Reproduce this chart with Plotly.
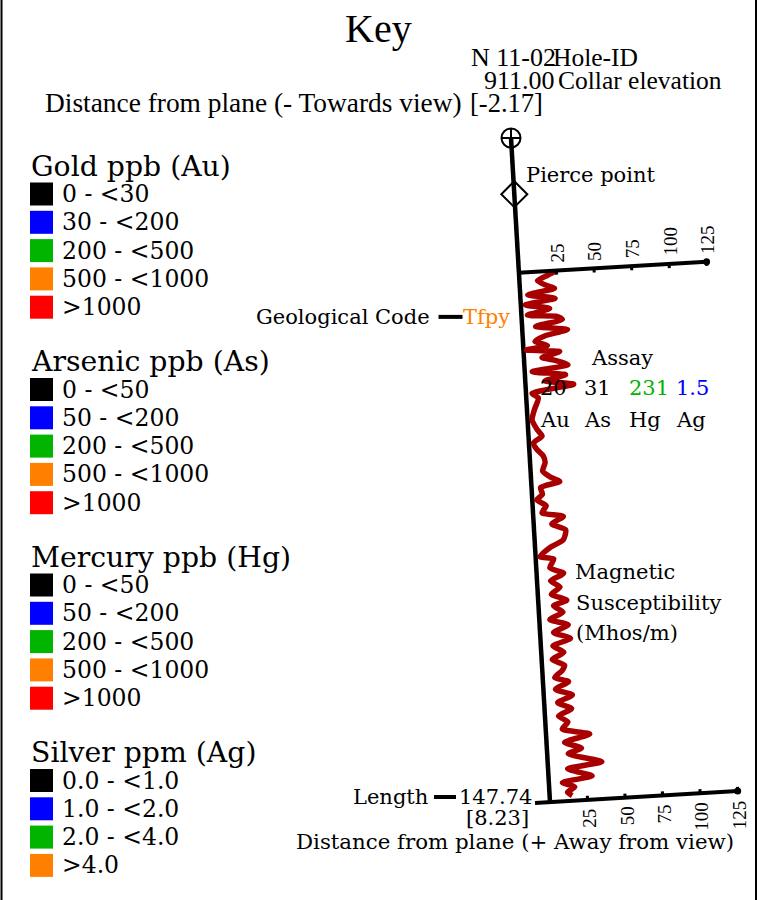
import numpy as np
import plotly.graph_objects as go

# ---------------- data ----------------
hole_id = "N 11-02"
collar_elevation = "911.00"
dist_top = "[-2.17]"
dist_bottom = "[8.23]"
hole_length = 147.74
geo_code = "Tfpy"
geo_code_depth = 39.8
pierce_depth = 12.5
mag_start_depth = 30.0

assay_values = ["20", "31", "231", "1.5"]
assay_elements = ["Au", "As", "Hg", "Ag"]
assay_value_colors = ["#000000", "#000000", "#00b400", "#0000ff"]

scale_ticks = [25, 50, 75, 100, 125]

# magnetic susceptibility (Mhos/m) along the hole, depth in metres
mag_depth = [30.2, 30.9, 32.0, 33.2, 33.9, 35.0, 36.1, 37.2, 38.3, 39.5, 40.2, 40.9,
             42.1, 43.2, 44.3, 45.4, 46.5, 47.2, 48.0, 49.1, 49.8, 51.0, 52.1, 53.2,
             54.3, 55.4, 56.9, 58.0, 60.5, 62.8, 65.0, 66.5, 67.9, 69.4, 70.9, 72.4,
             74.3, 75.7, 76.8, 77.9, 79.4, 80.6, 82.0, 83.5, 84.6, 86.1, 87.6, 89.8,
             91.3, 93.2, 93.9, 95.8, 97.2, 98.7, 100.2, 101.7, 103.2, 104.3, 105.8, 107.3,
             108.7, 110.2, 111.7, 113.2, 114.7, 116.2, 117.6, 118.8, 120.2, 121.3, 122.8, 124.3,
             125.8, 127.3, 128.8, 130.2, 131.7, 133.2, 134.7, 136.2, 137.3, 139.5, 140.6, 142.5,
             143.6, 144.7, 145.8, 146.6]
mag_value = [24, 19, 12, 18, 23, 5, 23, 3, 19, 4, 24, 27,
             9, 30, 15, 8, 16, 2, 24, 12, 20, 29, 5, 27,
             13, 32, 4, 8, 5, 3, 6, 9, 3, 5, 9, 10,
             8, 13, 19, 6, 7, 3, 9, 6, 20, 12, 21, 19,
             10, 3, 12, 9, 18, 9, 15, 9, 19, 10, 16, 7,
             19, 9, 20, 8, 15, 7, 15, 13, 8, 17, 8, 19,
             9, 18, 9, 15, 11, 29, 12, 23, 14, 36, 13, 29,
             9, 17, 12, 15]

legend_groups = ["Gold ppb (Au)", "Arsenic ppb (As)", "Mercury ppb (Hg)", "Silver ppm (Ag)"]
gold_labels = ["0 - <30", "30 - <200", "200 - <500", "500 - <1000", ">1000"]
arsenic_labels = ["0 - <50", "50 - <200", "200 - <500", "500 - <1000", ">1000"]
mercury_labels = ["0 - <50", "50 - <200", "200 - <500", "500 - <1000", ">1000"]
silver_labels = ["0.0 - <1.0", "1.0 - <2.0", "2.0 - <4.0", ">4.0"]
class_colors = ["#000000", "#0000ff", "#00b400", "#ff8000", "#ff0000"]

# ---------------- layout / geometry ----------------
W, H = 763, 900
COLLAR = np.array([511.0, 138.0])
HOLE_END = np.array([550.0, 802.0])
hole_vec = HOLE_END - COLLAR
PX_PER_M = np.linalg.norm(hole_vec) / hole_length
U = hole_vec / np.linalg.norm(hole_vec)
N = np.array([U[1], -U[0]])
PX_PER_UNIT = 1.504

SERIF = "DejaVu Serif"
COND = "Liberation Serif"
TRACE_RED = "#a80000"


def P(d, v=0.0):
    d = np.asarray(d, dtype=float)
    v = np.asarray(v, dtype=float)
    x = COLLAR[0] + d * PX_PER_M * U[0] + v * PX_PER_UNIT * N[0]
    y = COLLAR[1] + d * PX_PER_M * U[1] + v * PX_PER_UNIT * N[1]
    return x, y


fig = go.Figure()
shapes = []
ann = []


def line(x0, y0, x1, y1, w=4, color="black"):
    fig.add_trace(go.Scatter(x=[x0, x1], y=[y0, y1], mode="lines",
                             line=dict(color=color, width=w), hoverinfo="skip"))


def text(x, y, s, size, xa="left", ya="middle", color="black", family=SERIF, angle=0):
    ann.append(dict(x=x, y=y, text=s, showarrow=False, xanchor=xa, yanchor=ya,
                    textangle=angle, font=dict(family=family, size=size, color=color),
                    xref="x", yref="y"))


# frame
shapes.append(dict(type="line", x0=1.5, x1=1.5, y0=0, y1=H, line=dict(color="black", width=2)))
shapes.append(dict(type="line", x0=756, x1=756, y0=0, y1=H, line=dict(color="black", width=2)))

# hole trace
hx, hy = P([0, hole_length])
line(hx[0], hy[0], hx[1], hy[1], w=4.5)

# magnetic susceptibility curve
mx, my = P(mag_depth, mag_value)
fig.add_trace(go.Scatter(x=mx, y=my, mode="lines",
                         line=dict(color=TRACE_RED, width=5.5, shape="spline", smoothing=0.6),
                         hoverinfo="skip"))

# scale axes (top and bottom)
for depth, v0, side in [(mag_start_depth, 0, 1), (hole_length, -10, -1)]:
    ax_x, ax_y = P([depth, depth], [v0, scale_ticks[-1]])
    line(ax_x[0], ax_y[0], ax_x[1], ax_y[1], w=4)
    for t in scale_ticks:
        tx, ty = P([depth, depth + side * 0.9], [t, t])
        line(tx[0], ty[0], tx[1], ty[1], w=3)
        px_, py_ = P(depth, t)
        if side == 1:
            text(px_ + 1, py_ - 6, str(t), 19, xa="center", ya="bottom", family=COND, angle=-90)
        else:
            text(px_ + 2, py_ + 7, str(t), 19, xa="center", ya="top", family=COND, angle=-90)
    ex, ey = P(depth, scale_ticks[-1])
    fig.add_trace(go.Scatter(x=[ex], y=[ey], mode="markers",
                             marker=dict(color="black", size=7), hoverinfo="skip"))

# collar and pierce point symbols
cx, cy = P(0)
fig.add_trace(go.Scatter(x=[cx], y=[cy], mode="markers",
                         marker=dict(symbol="circle-cross-open", size=19, color="black",
                                     line=dict(width=2, color="black")), hoverinfo="skip"))
ppx, ppy = P(pierce_depth)
fig.add_trace(go.Scatter(x=[ppx], y=[ppy], mode="markers",
                         marker=dict(symbol="diamond-open", size=20, color="black",
                                     line=dict(width=2, color="black")), hoverinfo="skip"))

# header
text(378, 28, "Key", 40, xa="center", family=COND)
text(558, 57, hole_id, 26, xa="right", family=COND)
text(551, 57, "Hole-ID", 25.5, family=COND)
text(557, 80, collar_elevation, 26, xa="right", family=COND)
text(556, 80, "Collar elevation", 25.5, family=COND)
text(464, 103, "Distance from plane (- Towards view)", 27.4, xa="right", family=COND)
text(468, 103, dist_top, 26.5, family=COND)

text(ppx + 10, 175, "Pierce point", 21)

# geological code
gx, gy = P(geo_code_depth)
text(gx - 90, gy, "Geological Code", 21, xa="right")
line(gx - 83, gy, gx - 59, gy, w=4)
text(gx - 61, gy, geo_code, 21, color="#ff8000")

# assay
text(622, 358, "Assay", 21, xa="center")
for i, (val, el, col) in enumerate(zip(assay_values, assay_elements, assay_value_colors)):
    x0 = [538, 582, 627, 674][i]
    text(x0, 388, val, 21, color=col)
    text(x0, 420, el, 21)

# magnetic susceptibility label
text(573, 572, "Magnetic", 21)
text(574, 603, "Susceptibility", 21)
text(574, 633, "(Mhos/m)", 21)

# length / bottom
text(hx[1] - 120, 797, "Length", 21, xa="right")
line(hx[1] - 116, 797, hx[1] - 94, 797, w=4)
text(hx[1] - 93, 797, f"{hole_length:.2f}", 21)
text(hx[1] - 19, 818, dist_bottom, 21, xa="right")
text(294, 841, "Distance from plane (+ Away from view)", 21.3)

# legend
group_labels = [gold_labels, arsenic_labels, mercury_labels, silver_labels]
for g, (title, labels) in enumerate(zip(legend_groups, group_labels)):
    ty = 166 + g * 195.5
    text(29, ty, title, 28.3)
    for i, lab in enumerate(labels):
        iy = ty + 28 + i * 28.3
        shapes.append(dict(type="rect", x0=30, x1=53, y0=iy - 11.5, y1=iy + 11.5,
                           fillcolor=class_colors[i], line=dict(width=0)))
        text(60, iy, lab, 23.5)

fig.update_layout(
    width=W, height=H, margin=dict(l=0, r=0, t=0, b=0),
    paper_bgcolor="white", plot_bgcolor="white", showlegend=False,
    xaxis=dict(range=[0, W], visible=False, fixedrange=True),
    yaxis=dict(range=[H, 0], visible=False, fixedrange=True),
    shapes=shapes, annotations=ann,
)
fig.write_html("out.html", config={"displayModeBar": False},
               post_script="document.body.style.margin='0';document.body.style.overflow='hidden';")
